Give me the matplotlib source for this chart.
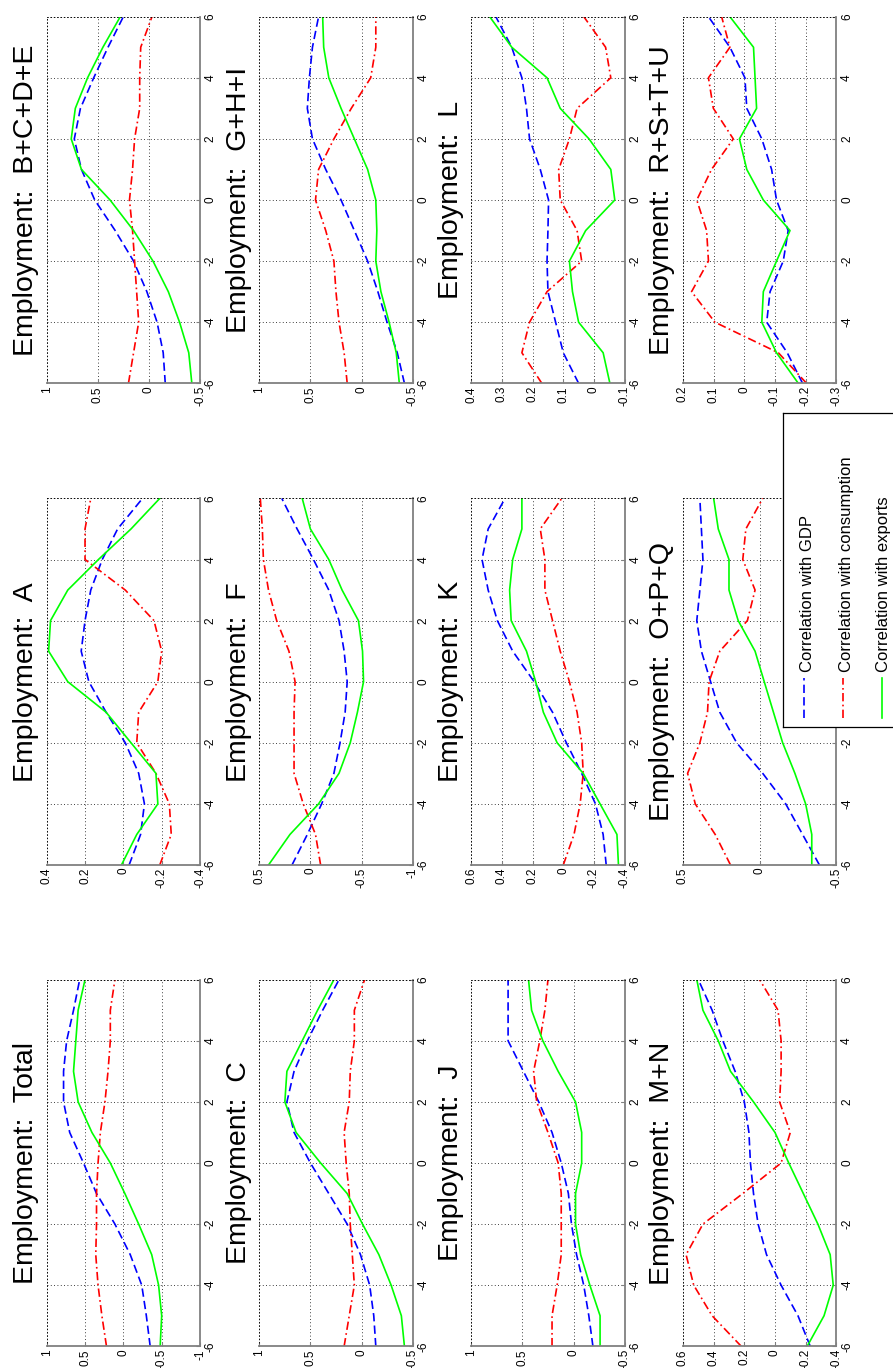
import matplotlib
matplotlib.use("Agg")
import matplotlib.pyplot as plt
from matplotlib.ticker import FuncFormatter

plt.rcParams["font.family"] = ["Liberation Sans", "DejaVu Sans"]

lags = [-6, -5, -4, -3, -2, -1, 0, 1, 2, 3, 4, 5, 6]

# panel order of the (unrotated) 4x3 grid
sectors = ["Total", "A", "B+C+D+E",
           "C", "F", "G+H+I",
           "J", "K", "L",
           "M+N", "O+P+Q", "R+S+T+U"]

ylims = {"Total": (-1, 1), "A": (-0.4, 0.4), "B+C+D+E": (-0.5, 1),
         "C": (-0.5, 1), "F": (-1, 0.5), "G+H+I": (-0.5, 1),
         "J": (-0.5, 1), "K": (-0.4, 0.6), "L": (-0.1, 0.4),
         "M+N": (-0.4, 0.6), "O+P+Q": (-0.5, 0.5), "R+S+T+U": (-0.3, 0.2)}
ysteps = {"Total": 0.5, "A": 0.2, "B+C+D+E": 0.5, "C": 0.5, "F": 0.5,
          "G+H+I": 0.5, "J": 0.5, "K": 0.2, "L": 0.1, "M+N": 0.2,
          "O+P+Q": 0.5, "R+S+T+U": 0.1}

corr_gdp = {
    "Total": [-0.35, -0.30, -0.24, -0.09, 0.11, 0.35, 0.52, 0.70, 0.78, 0.78, 0.74, 0.65, 0.57],
    "A": [-0.03, -0.09, -0.11, -0.08, -0.01, 0.09, 0.18, 0.22, 0.20, 0.17, 0.11, 0.03, -0.10],
    "B+C+D+E": [-0.16, -0.14, -0.08, 0.02, 0.15, 0.33, 0.53, 0.66, 0.73, 0.67, 0.54, 0.40, 0.25],
    "C": [-0.14, -0.12, -0.08, 0.01, 0.14, 0.32, 0.50, 0.66, 0.73, 0.66, 0.53, 0.38, 0.22],
    "F": [0.18, 0.03, -0.11, -0.23, -0.29, -0.34, -0.36, -0.33, -0.28, -0.18, -0.03, 0.13, 0.28],
    "G+H+I": [-0.42, -0.35, -0.25, -0.16, -0.06, 0.07, 0.20, 0.35, 0.48, 0.53, 0.51, 0.48, 0.42],
    "J": [-0.19, -0.15, -0.10, -0.03, 0.02, 0.05, 0.12, 0.21, 0.34, 0.49, 0.64, 0.64, 0.64],
    "K": [-0.28, -0.26, -0.21, -0.12, -0.02, 0.07, 0.19, 0.33, 0.43, 0.49, 0.53, 0.49, 0.38],
    "L": [0.05, 0.10, 0.125, 0.15, 0.153, 0.15, 0.148, 0.175, 0.21, 0.22, 0.235, 0.268, 0.32],
    "M+N": [-0.23, -0.15, -0.04, 0.055, 0.11, 0.14, 0.16, 0.17, 0.20, 0.26, 0.34, 0.41, 0.50],
    "O+P+Q": [-0.39, -0.28, -0.17, -0.02, 0.15, 0.26, 0.32, 0.38, 0.41, 0.39, 0.37, 0.38, 0.39],
    "R+S+T+U": [-0.19, -0.14, -0.073, -0.084, -0.127, -0.143, -0.105, -0.089, -0.057, -0.008, -0.002, 0.047, 0.117],
}

corr_cons = {
    "Total": [0.22, 0.28, 0.33, 0.36, 0.35, 0.35, 0.33, 0.30, 0.24, 0.20, 0.17, 0.17, 0.11],
    "A": [-0.19, -0.25, -0.24, -0.17, -0.07, -0.08, -0.18, -0.20, -0.16, -0.01, 0.20, 0.20, 0.17],
    "B+C+D+E": [0.20, 0.15, 0.10, 0.12, 0.14, 0.16, 0.19, 0.16, 0.14, 0.09, 0.09, 0.08, -0.03],
    "C": [0.17, 0.12, 0.07, 0.09, 0.11, 0.12, 0.15, 0.17, 0.12, 0.11, 0.07, 0.07, -0.03],
    "F": [-0.10, -0.05, 0.07, 0.16, 0.16, 0.16, 0.15, 0.21, 0.33, 0.41, 0.46, 0.47, 0.49],
    "G+H+I": [0.14, 0.17, 0.22, 0.25, 0.27, 0.35, 0.45, 0.42, 0.27, 0.10, -0.09, -0.14, -0.14],
    "J": [0.21, 0.21, 0.16, 0.12, 0.12, 0.12, 0.15, 0.25, 0.36, 0.39, 0.33, 0.28, 0.25],
    "K": [0.00, -0.07, -0.11, -0.13, -0.12, -0.09, -0.04, 0.02, 0.07, 0.12, 0.12, 0.15, 0.01],
    "L": [0.17, 0.235, 0.21, 0.153, 0.04, 0.055, 0.11, 0.115, 0.08, 0.055, -0.055, -0.038, 0.033],
    "M+N": [0.22, 0.41, 0.53, 0.58, 0.47, 0.21, -0.04, -0.10, -0.03, -0.04, -0.04, -0.02, 0.10],
    "O+P+Q": [0.19, 0.29, 0.42, 0.47, 0.39, 0.34, 0.33, 0.26, 0.08, 0.03, 0.11, 0.09, -0.02],
    "R+S+T+U": [-0.203, -0.111, 0.096, 0.172, 0.117, 0.123, 0.155, 0.107, 0.036, 0.101, 0.117, 0.047, 0.074],
}

corr_exp = {
    "Total": [-0.48, -0.50, -0.46, -0.37, -0.20, -0.02, 0.17, 0.41, 0.59, 0.65, 0.62, 0.59, 0.50],
    "A": [0.01, -0.07, -0.18, -0.17, -0.04, 0.09, 0.29, 0.39, 0.38, 0.29, 0.13, -0.04, -0.19],
    "B+C+D+E": [-0.42, -0.39, -0.30, -0.19, -0.04, 0.15, 0.38, 0.66, 0.76, 0.72, 0.60, 0.45, 0.28],
    "C": [-0.42, -0.39, -0.29, -0.17, -0.01, 0.14, 0.40, 0.64, 0.75, 0.73, 0.58, 0.43, 0.27],
    "F": [0.41, 0.20, -0.08, -0.28, -0.39, -0.46, -0.52, -0.51, -0.47, -0.31, -0.18, 0.00, 0.08],
    "G+H+I": [-0.37, -0.34, -0.27, -0.19, -0.14, -0.15, -0.14, -0.06, 0.07, 0.20, 0.32, 0.37, 0.38],
    "J": [-0.26, -0.26, -0.16, -0.07, -0.02, -0.02, -0.08, -0.08, -0.02, 0.15, 0.30, 0.41, 0.44],
    "K": [-0.36, -0.35, -0.24, -0.13, 0.04, 0.13, 0.18, 0.24, 0.34, 0.35, 0.33, 0.27, 0.27],
    "L": [-0.052, -0.03, 0.05, 0.07, 0.08, 0.027, -0.068, -0.055, 0.016, 0.11, 0.153, 0.268, 0.34],
    "M+N": [-0.21, -0.32, -0.38, -0.36, -0.28, -0.185, -0.09, 0.00, 0.14, 0.29, 0.37, 0.47, 0.51],
    "O+P+Q": [-0.34, -0.34, -0.30, -0.23, -0.15, -0.09, -0.03, 0.03, 0.14, 0.20, 0.20, 0.27, 0.30],
    "R+S+T+U": [-0.176, -0.105, -0.057, -0.062, -0.105, -0.149, -0.062, -0.008, 0.016, -0.04, -0.035, -0.03, 0.047],
}

series_labels = ["Correlation with GDP", "Correlation with consumption", "Correlation with exports"]
series_colors = ["#0000ff", "#ff0000", "#00ff00"]
series_styles = [(0, (5, 2.5)), (0, (5, 2, 1, 2)), "-"]

W, H = 893, 1368
fig = plt.figure(figsize=(W / 100, H / 100), dpi=100)

# the whole figure is turned 90 degrees: grid rows -> columns of the image
col_x = [46.7, 259.3, 471.3, 683.0]        # left edge (px) per grid row
row_y = [1346.3, 865.0, 383.3]             # bottom edge (px) per grid column
pw, ph = 153.3, 366.6

fmt = FuncFormatter(lambda v, p: "%g" % round(v, 3))
grid_ls = (0, (1, 3))

for k, name in enumerate(sectors):
    r, c = divmod(k, 3)
    ax = fig.add_axes([col_x[r] / W, (H - row_y[c]) / H, pw / W, ph / H])
    for vals, col, ls in zip([corr_gdp[name], corr_cons[name], corr_exp[name]],
                             series_colors, series_styles):
        ax.plot(vals, lags, color=col, linestyle=ls, linewidth=1.2)
    lo, hi = ylims[name]
    st = ysteps[name]
    n = int(round((hi - lo) / st))
    ax.set_xticks([lo + i * st for i in range(n + 1)])
    ax.set_xlim(hi, lo)
    ax.set_ylim(-6, 6)
    ax.set_yticks([-6, -4, -2, 0, 2, 4, 6])
    ax.xaxis.set_major_formatter(fmt)
    ax.yaxis.set_major_formatter(fmt)
    ax.yaxis.tick_right()
    ax.grid(True, color="black", linestyle=grid_ls, linewidth=0.6)
    for s in ["right", "bottom"]:
        ax.spines[s].set_color("#808080")
        ax.spines[s].set_linewidth(1.3)
    for s in ["left", "top"]:
        ax.spines[s].set_color("black")
        ax.spines[s].set_linestyle(grid_ls)
        ax.spines[s].set_linewidth(0.6)
    ax.tick_params(axis="both", direction="in", length=3, width=0.8,
                   color="#808080", labelsize=8.5)
    ax.tick_params(axis="x", labelrotation=90, pad=2)
    ax.tick_params(axis="y", labelrotation=90, pad=3.5, left=False, right=True)
    for lab in ax.get_yticklabels():
        lab.set_va("center")
    if name == "O+P+Q":
        # these lag labels sit under the legend box in the original
        for lab, v in zip(ax.get_yticklabels(), ax.get_yticks()):
            if v >= 0:
                lab.set_visible(False)
    ax.text(-13.7 / pw, 0.5, "Employment:  " + name, transform=ax.transAxes,
            rotation=90, rotation_mode="anchor", ha="center", va="baseline",
            fontsize=20.5)

# legend box (drawn by hand so its entries can be turned with the figure)
lax = fig.add_axes([783 / W, (H - 727) / H, (910 - 783) / W, (727 - 413) / H])
lax.set_zorder(10)
lax.set_facecolor("white")
lax.set_xlim(783, 910)
lax.set_ylim(727, 413)
lax.set_xticks([])
lax.set_yticks([])
for s in lax.spines.values():
    s.set_color("black")
    s.set_linewidth(0.9)
line_x = [804.3, 843.3, 881.7]
text_x = [812.3, 851.0, 888.3]
for lx, tx, lab, col, ls in zip(line_x, text_x, series_labels, series_colors, series_styles):
    lax.plot([lx, lx], [718, 678], color=col, linestyle=ls, linewidth=1.2)
    lax.text(tx, 672, lab, rotation=90, rotation_mode="anchor", ha="left",
             va="baseline", fontsize=12)

fig.savefig("out.png", dpi=100)
